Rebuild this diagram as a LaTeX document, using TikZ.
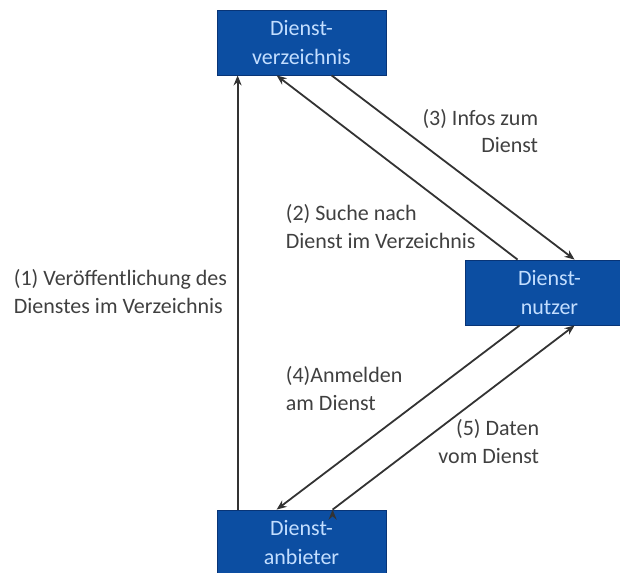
\documentclass[tikz,border=0pt]{standalone}
\usepackage{fontspec}
\setmainfont{Carlito}
\usetikzlibrary{arrows.meta}
\definecolor{boxblue}{RGB}{12,78,162}
\definecolor{boxline}{RGB}{8,52,118}
\definecolor{boxtext}{RGB}{195,222,255}
\definecolor{labelgray}{RGB}{64,64,64}
\begin{document}
\begin{tikzpicture}[x=1pt,y=-1pt,->,>={Stealth[length=10pt,width=8pt]},line width=1.8pt,
    main node/.style={rectangle,draw=boxline,line width=0.8pt,fill=boxblue,text=boxtext,minimum width=169pt,minimum height=65pt,inner sep=0pt,align=center,font=\fontsize{22}{29.5}\selectfont},
    step label/.style={inner sep=0pt,text=labelgray,font=\fontsize{22}{27.7}\selectfont}]
    \clip (0,0) rectangle (620,572);
    \node[main node] (verz) at (301.5,42.5) {Dienst-\\verzeichnis};
    \node[main node] (nutz) at (549.5,292.5) {Dienst-\\nutzer};
    \node[main node] (anb) at (301.5,542.5) {Dienst-\\anbieter};

    \path[draw=black!80]
        ([xshift=21pt]anb.north west) edge ([xshift=21pt]verz.south west)
        ([xshift=53pt]nutz.north west) edge ([xshift=60pt]verz.south west)
        ([xshift=115pt]verz.south west) edge ([xshift=110pt]nutz.north west)
        ([xshift=55pt]nutz.south west) edge ([xshift=60pt]anb.north west)
        ([xshift=116pt]anb.north west) edge ([xshift=110pt]nutz.south west)
        ;

    % labels of the five steps
    \node[step label,anchor=base west,align=left] (l1) at (13,313) {(1) Veröffentlichung des\\Dienstes im Verzeichnis};
    \node[step label,anchor=base west,align=left] (l2) at (285,248) {(2) Suche nach\\Dienst im Verzeichnis};
    \node[step label,anchor=base east,align=right] (l3) at (539,153) {(3) Infos zum\\Dienst};
    \node[step label,anchor=base west,align=left] (l4) at (285,410) {(4)Anmelden\\am Dienst};
    \node[step label,anchor=base east,align=right] (l5) at (540,463) {(5) Daten\\vom Dienst};
\end{tikzpicture}
\end{document}
